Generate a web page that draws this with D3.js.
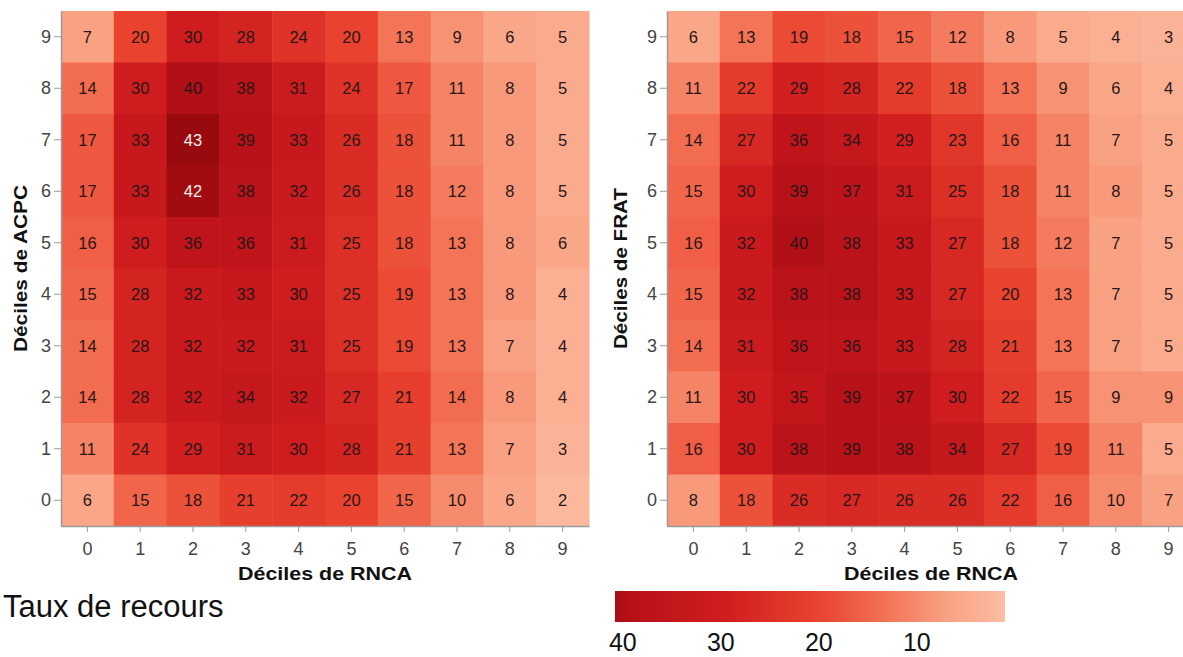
<!DOCTYPE html>
<html>
<head>
<meta charset="utf-8">
<script src="https://cdn.jsdelivr.net/npm/d3@7"></script>
<style>
  html, body { margin: 0; padding: 0; background: #fff; }
  svg { display: block; }
  text { font-family: "Liberation Sans", Arial, sans-serif; }
</style>
</head>
<body>
<svg id="chart" width="1183" height="657"></svg>
<script>
// ---- Data ----
const deciles = ["0","1","2","3","4","5","6","7","8","9"];
// rows listed from decile 9 (top) down to decile 0 (bottom); columns = RNCA deciles 0..9
const acpcRows = ["9","8","7","6","5","4","3","2","1","0"];
const acpcValues = [
  [7, 20, 30, 28, 24, 20, 13, 9, 6, 5],
  [14, 30, 40, 38, 31, 24, 17, 11, 8, 5],
  [17, 33, 43, 39, 33, 26, 18, 11, 8, 5],
  [17, 33, 42, 38, 32, 26, 18, 12, 8, 5],
  [16, 30, 36, 36, 31, 25, 18, 13, 8, 6],
  [15, 28, 32, 33, 30, 25, 19, 13, 8, 4],
  [14, 28, 32, 32, 31, 25, 19, 13, 7, 4],
  [14, 28, 32, 34, 32, 27, 21, 14, 8, 4],
  [11, 24, 29, 31, 30, 28, 21, 13, 7, 3],
  [6, 15, 18, 21, 22, 20, 15, 10, 6, 2]
];
const fratRows = ["9","8","7","6","5","4","3","2","1","0"];
const fratValues = [
  [6, 13, 19, 18, 15, 12, 8, 5, 4, 3],
  [11, 22, 29, 28, 22, 18, 13, 9, 6, 4],
  [14, 27, 36, 34, 29, 23, 16, 11, 7, 5],
  [15, 30, 39, 37, 31, 25, 18, 11, 8, 5],
  [16, 32, 40, 38, 33, 27, 18, 12, 7, 5],
  [15, 32, 38, 38, 33, 27, 20, 13, 7, 5],
  [14, 31, 36, 36, 33, 28, 21, 13, 7, 5],
  [11, 30, 35, 39, 37, 30, 22, 15, 9, 9],
  [16, 30, 38, 39, 38, 34, 27, 19, 11, 5],
  [8, 18, 26, 27, 26, 26, 22, 16, 10, 7]
];
const legendTicks = [40, 30, 20, 10];
const xTitle = "Déciles de RNCA";
const yTitleLeft = "Déciles de ACPC";
const yTitleRight = "Déciles de FRAT";
const legendTitle = "Taux de recours";

// ---- Colour scale ----
const colorStops = [0, 2, 7, 14, 20, 30, 39, 43];
const colorRange = ["#fdc6ad", "#fcb89d", "#f9a183", "#f26c50", "#e9432f", "#cf1c1f", "#b71218", "#990a0e"];
const color = d3.scaleLinear().domain(colorStops).range(colorRange).interpolate(d3.interpolateRgb).clamp(true);

const svg = d3.select("#chart");

function heatmap(opts) {
  const {left, right, top, bottom, rows, values, yTitle, yTitleX, yTitleLen} = opts;
  const x = d3.scaleBand().domain(deciles).range([left, right]).padding(0);
  const y = d3.scaleBand().domain(rows).range([top, bottom]).padding(0);
  const g = svg.append("g");

  const cells = [];
  rows.forEach((r, i) => deciles.forEach((c, j) => cells.push({r, c, v: values[i][j]})));

  g.selectAll("rect.cell").data(cells).join("rect")
    .attr("class", "cell")
    .attr("x", d => x(d.c))
    .attr("y", d => y(d.r))
    .attr("width", x.bandwidth() + 0.5)
    .attr("height", y.bandwidth() + 0.5)
    .attr("fill", d => color(d.v));

  g.selectAll("text.val").data(cells).join("text")
    .attr("class", "val")
    .attr("x", d => x(d.c) + x.bandwidth() / 2)
    .attr("y", d => y(d.r) + y.bandwidth() / 2)
    .attr("dy", "0.36em")
    .attr("text-anchor", "middle")
    .attr("font-size", 16.5)
    .attr("fill", d => d.v > 41 ? "#f4ecec" : "#2a1616")
    .text(d => d.v);

  const xAxis = g.append("g")
    .attr("transform", `translate(0,${bottom})`)
    .call(d3.axisBottom(x).tickSize(6).tickSizeOuter(0).tickPadding(10));
  const yAxis = g.append("g")
    .attr("transform", `translate(${left},0)`)
    .call(d3.axisLeft(y).tickSize(7).tickSizeOuter(0).tickPadding(3));
  [xAxis, yAxis].forEach(a => {
    a.selectAll("path.domain").attr("stroke", "#9a9a9a").attr("stroke-width", 1.5);
    a.selectAll(".tick line").attr("stroke", "#9a9a9a");
    a.selectAll(".tick text").attr("font-size", 18).attr("fill", "#444")
      .attr("font-family", "'Liberation Sans', Arial, sans-serif");
  });

  g.append("text")
    .attr("x", (left + right) / 2)
    .attr("y", 580)
    .attr("text-anchor", "middle")
    .attr("font-size", 18)
    .attr("font-weight", "bold")
    .attr("fill", "#111")
    .attr("textLength", 174)
    .attr("lengthAdjust", "spacingAndGlyphs")
    .text(xTitle);

  g.append("text")
    .attr("transform", `translate(${yTitleX},${(top + bottom) / 2}) rotate(-90)`)
    .attr("text-anchor", "middle")
    .attr("dy", "0.35em")
    .attr("font-size", 18)
    .attr("font-weight", "bold")
    .attr("fill", "#111")
    .attr("textLength", yTitleLen)
    .attr("lengthAdjust", "spacingAndGlyphs")
    .text(yTitle);
}

heatmap({left: 61, right: 589, top: 11, bottom: 526, rows: acpcRows, values: acpcValues,
         yTitle: yTitleLeft, yTitleX: 21, yTitleLen: 167});
heatmap({left: 667, right: 1195, top: 11, bottom: 526, rows: fratRows, values: fratValues,
         yTitle: yTitleRight, yTitleX: 621, yTitleLen: 161});

// ---- Legend ----
const lx = d3.scaleLinear().domain([40.8, 1]).range([615, 1005]);
const defs = svg.append("defs");
const grad = defs.append("linearGradient").attr("id", "legGrad")
  .attr("x1", "0%").attr("x2", "100%").attr("y1", "0%").attr("y2", "0%");
const dom = lx.domain();
d3.range(0, 1.0001, 0.05).forEach(t => {
  const v = dom[0] + (dom[1] - dom[0]) * t;
  grad.append("stop").attr("offset", (t * 100) + "%").attr("stop-color", color(v));
});
svg.append("rect")
  .attr("x", lx(dom[0])).attr("y", 591)
  .attr("width", lx(dom[1]) - lx(dom[0])).attr("height", 31)
  .attr("fill", "url(#legGrad)");
svg.selectAll("text.leg").data(legendTicks).join("text")
  .attr("class", "leg")
  .attr("x", d => lx(d))
  .attr("y", 651)
  .attr("text-anchor", "middle")
  .attr("font-size", 25)
  .attr("fill", "#111")
  .text(d => d);

svg.append("text")
  .attr("x", 3).attr("y", 617)
  .attr("font-size", 31)
  .attr("fill", "#111")
  .text(legendTitle);
</script>
</body>
</html>
